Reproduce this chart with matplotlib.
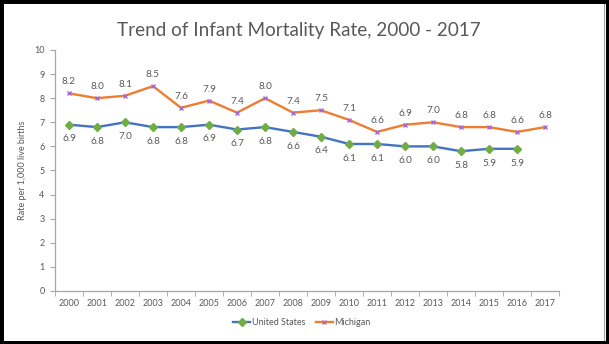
import matplotlib.pyplot as plt
from matplotlib.patches import Rectangle

# Infant mortality rate per 1,000 live births
years = [str(y) for y in range(2000, 2018)]
us_rate = [6.9, 6.8, 7.0, 6.8, 6.8, 6.9, 6.7, 6.8, 6.6, 6.4, 6.1, 6.1, 6.0, 6.0, 5.8, 5.9, 5.9]
mi_rate = [8.2, 8.0, 8.1, 8.5, 7.6, 7.9, 7.4, 8.0, 7.4, 7.5, 7.1, 6.6, 6.9, 7.0, 6.8, 6.8, 6.6, 6.8]

plt.rcParams['font.family'] = ['Lato', 'DejaVu Sans']
text_grey = '#595959'
axis_grey = '#a6a6a6'

fig = plt.figure(figsize=(6.09, 3.44), dpi=100)
ax = fig.add_axes([0.0903, 0.1541, 0.8276, 0.7006])

x_us = range(len(us_rate))
x_mi = range(len(mi_rate))
ax.plot(x_us, us_rate, color='#4472c4', lw=1.7, marker='D', ms=4.5,
        mfc='#70ad47', mec='#70ad47', label='United States', zorder=3)
ax.plot(x_mi, mi_rate, color='#ed7d31', lw=1.7, marker='x', ms=3.5, mew=1,
        mec='#a569d6', label='Michigan', zorder=3)

for i, v in enumerate(us_rate):
    ax.annotate(f'{v:.1f}', (i, v), xytext=(0, -7), textcoords='offset points',
                ha='center', va='top', fontsize=7.2, color=text_grey)
for i, v in enumerate(mi_rate):
    ax.annotate(f'{v:.1f}', (i, v), xytext=(0, 5), textcoords='offset points',
                ha='center', va='bottom', fontsize=7.2, color=text_grey)

ax.set_xlim(-0.5, len(years) - 0.5)
ax.set_ylim(0, 10)
ax.set_yticks(range(0, 11))
ax.set_xticks(range(len(years)))
ax.set_xticklabels(years)
ax.set_xticks([i - 0.5 for i in range(len(years) + 1)], minor=True)
ax.tick_params(axis='x', which='major', length=0, pad=6, labelsize=6.5, labelcolor=text_grey)
ax.tick_params(axis='x', which='minor', length=3.5, color=axis_grey)
ax.tick_params(axis='y', length=3.5, color=axis_grey, labelsize=6.5, labelcolor=text_grey, pad=4)
for side in ('top', 'right'):
    ax.spines[side].set_visible(False)
for side in ('left', 'bottom'):
    ax.spines[side].set_color(axis_grey)
    ax.spines[side].set_linewidth(0.9)

ax.set_ylabel('Rate per 1,000 live births', fontsize=6.5, color=text_grey, labelpad=5)
fig.text(0.49, 0.912, 'Trend of Infant Mortality Rate, 2000 - 2017', ha='center', va='center',
         fontsize=13.6, color=text_grey)

ax.legend(loc='center', bbox_to_anchor=(0.49, -0.13), ncol=2, frameon=False,
          fontsize=6.5, labelcolor=text_grey, handlelength=1.9, columnspacing=1.1,
          handletextpad=0.2)

# frame around the chart
fig.patches.append(Rectangle((0.004, 0.006), 0.988, 0.988, transform=fig.transFigure,
                             fill=False, ec='#a0a0a0', lw=0.8))
fig.patches.append(Rectangle((0, 0), 1, 1, transform=fig.transFigure,
                             fill=False, ec='black', lw=5))

fig.savefig('out.png', dpi=100)
